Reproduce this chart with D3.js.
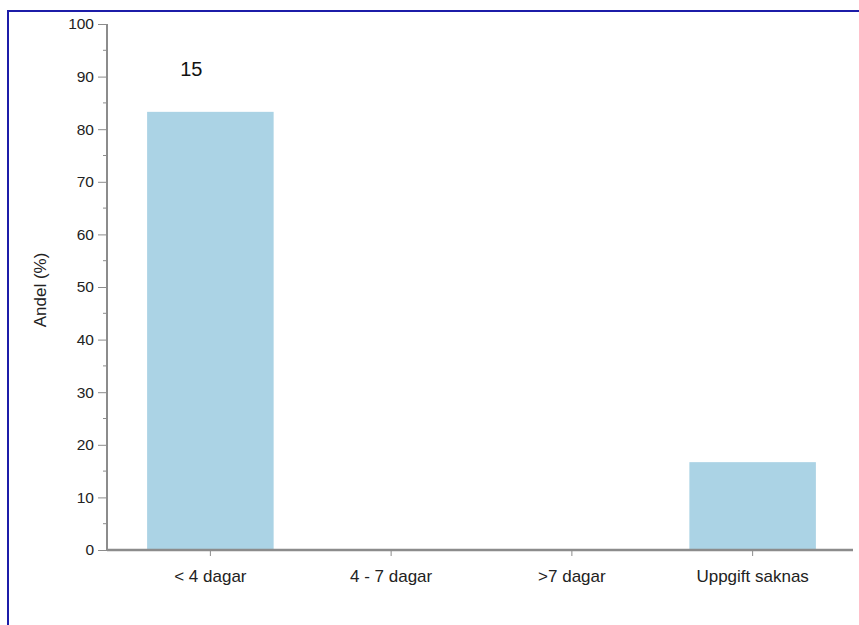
<!DOCTYPE html>
<html>
<head>
<meta charset="utf-8">
<script src="https://cdn.jsdelivr.net/npm/d3@7"></script>
<style>
  body { margin: 0; background: #fff; font-family: "Liberation Sans", Arial, sans-serif; }
</style>
</head>
<body>
<script>
// Data
const categories = ["< 4 dagar", "4 - 7 dagar", ">7 dagar", "Uppgift saknas"];
const shares = [83.3, 0, 0, 16.7];
const totalN = "15";
const yTicks = [0, 10, 20, 30, 40, 50, 60, 70, 80, 90, 100];
const yMinorTicks = [5, 15, 25, 35, 45, 55, 65, 75, 85, 95];

const W = 859, H = 625;
const axisColor = "#8c8c8c";

const svg = d3.select("body").append("svg")
    .attr("width", W)
    .attr("height", H);

// Frame
svg.append("rect")
    .attr("x", 8)
    .attr("y", 11)
    .attr("width", 860)
    .attr("height", 640)
    .attr("fill", "none")
    .attr("stroke", "#1c1ca8")
    .attr("stroke-width", 2);

const x0 = 107, x1 = 853, yTop = 24, yBot = 550;

const xScale = d3.scaleBand()
    .domain(categories)
    .range([120, 843])
    .paddingInner(0.3)
    .paddingOuter(0.15);

const yScale = d3.scaleLinear()
    .domain([0, 100])
    .range([yBot, yTop]);

// Bars
svg.selectAll("rect.bar")
    .data(categories.map((c, i) => ({ cat: c, v: shares[i] })))
    .enter()
    .append("rect")
    .attr("class", "bar")
    .attr("x", d => xScale(d.cat))
    .attr("y", d => yScale(d.v))
    .attr("width", xScale.bandwidth())
    .attr("height", d => yBot - yScale(d.v))
    .attr("fill", "#abd3e5");

// Y axis
const yAxis = d3.axisLeft(yScale)
    .tickValues(yTicks)
    .tickSize(9)
    .tickPadding(4)
    .tickFormat(d3.format("d"));

const gy = svg.append("g")
    .attr("transform", `translate(${x0},0)`)
    .call(yAxis);
gy.select(".domain").remove();
gy.append("line")
    .attr("x1", 0).attr("x2", 0)
    .attr("y1", yTop).attr("y2", yBot)
    .attr("stroke", axisColor)
    .attr("stroke-width", 2);
gy.selectAll(".tick line").attr("stroke", axisColor);
gy.selectAll(".tick text")
    .style("font-size", "15.5px")
    .style("font-family", "Liberation Sans, Arial, sans-serif")
    .attr("fill", "#222");

gy.selectAll("line.minor")
    .data(yMinorTicks)
    .enter()
    .append("line")
    .attr("class", "minor")
    .attr("x1", -4).attr("x2", 0)
    .attr("y1", d => yScale(d)).attr("y2", d => yScale(d))
    .attr("stroke", axisColor);

// X axis
const xAxis = d3.axisBottom(xScale)
    .tickSize(6)
    .tickPadding(14);

const gx = svg.append("g")
    .attr("transform", `translate(0,${yBot})`)
    .call(xAxis);
gx.select(".domain").remove();
gx.append("line")
    .attr("x1", x0).attr("x2", x1)
    .attr("y1", 0).attr("y2", 0)
    .attr("stroke", axisColor)
    .attr("stroke-width", 2.5);
gx.selectAll(".tick line").attr("stroke", axisColor);
gx.selectAll(".tick text")
    .style("font-size", "17px")
    .style("font-family", "Liberation Sans, Arial, sans-serif")
    .attr("fill", "#222");

// Y label
svg.append("text")
    .attr("transform", `translate(46,290) rotate(-90)`)
    .attr("text-anchor", "middle")
    .style("font-size", "17px")
    .attr("fill", "#222")
    .text("Andel (%)");

// n annotation
svg.append("text")
    .attr("x", xScale(categories[0]) + xScale.bandwidth() / 2 - 19)
    .attr("y", yScale(90) - 1)
    .attr("text-anchor", "middle")
    .style("font-size", "20px")
    .attr("fill", "#111")
    .text(totalN);
</script>
</body>
</html>
